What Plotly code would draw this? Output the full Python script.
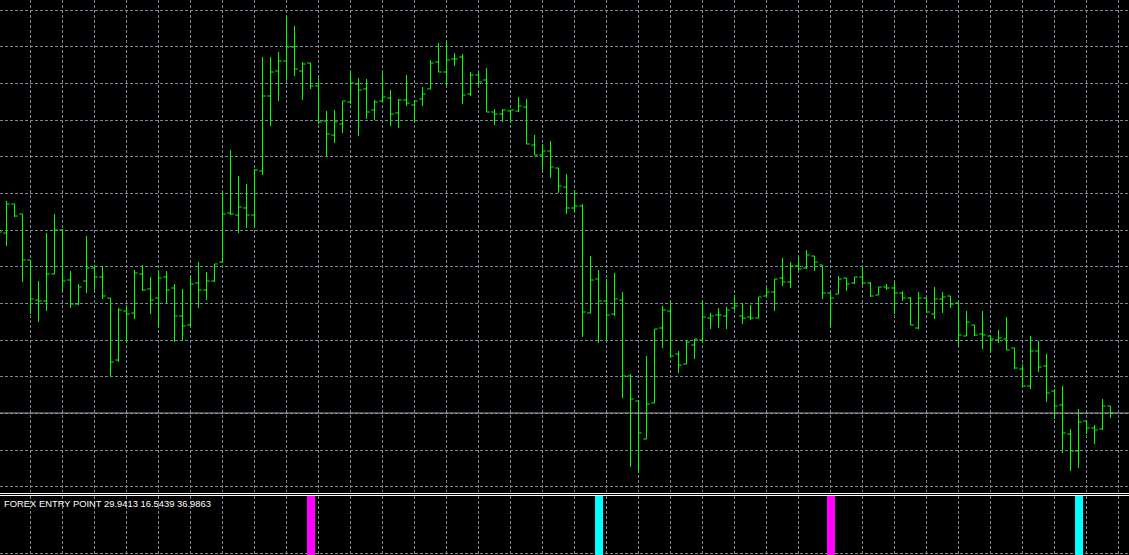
import plotly.graph_objects as go

# ---- price data (points), one bar per slot, oldest first ----
bar_index = list(range(-1, 139))

opens = [268, 267, 296, 286, 240, 200, 199, 226, 270, 220, 196, 219, 232, 223, 202, 140, 189, 187, 226, 211,
         202, 223, 212, 184, 175, 217, 210, 219, 238, 287, 285, 292, 285, 329, 404, 429, 439, 453, 429, 437,
         414, 379, 365, 376, 398, 416, 411, 390, 399, 402, 387, 400, 395, 401, 411, 438, 428, 441, 443, 406,
         425, 420, 388, 386, 389, 389, 393, 355, 345, 349, 332, 313, 292, 294, 187, 221, 199, 186, 200, 124,
         99, 61, 97, 172, 189, 146, 136, 155, 160, 182, 185, 184, 192, 184, 183, 182, 204, 208, 222, 218,
         234, 232, 244, 235, 207, 206, 222, 217, 223, 217, 205, 213, 212, 207, 202, 172, 202, 186, 201, 204,
         197, 164, 175, 166, 164, 160, 161, 152, 131, 114, 149, 134, 109, 95, 66, 49, 79, 72, 71, 94]
highs = [275, 299, 296, 286, 240, 219, 267, 286, 271, 229, 216, 264, 235, 234, 202, 192, 194, 230, 235, 223,
         230, 229, 216, 211, 224, 238, 228, 236, 308, 350, 324, 316, 331, 443, 443, 448, 483, 474, 438, 437,
         422, 389, 390, 399, 428, 422, 421, 400, 427, 410, 401, 425, 400, 413, 440, 457, 458, 447, 446, 428,
         428, 432, 391, 391, 390, 403, 401, 365, 356, 359, 332, 326, 310, 296, 244, 230, 221, 227, 208, 126,
         99, 144, 171, 194, 199, 149, 160, 161, 199, 187, 192, 193, 205, 197, 195, 203, 213, 221, 242, 238,
         243, 250, 244, 235, 207, 224, 222, 223, 233, 218, 213, 216, 218, 209, 203, 208, 202, 213, 208, 204,
         197, 189, 175, 189, 164, 170, 183, 152, 136, 164, 159, 146, 111, 114, 71, 91, 80, 75, 101, 94]
lows = [260, 254, 283, 218, 186, 178, 189, 226, 209, 192, 195, 207, 210, 201, 124, 138, 158, 181, 209, 186,
        172, 197, 158, 159, 174, 192, 200, 218, 237, 285, 267, 272, 273, 325, 374, 399, 420, 424, 400, 411,
        376, 344, 357, 367, 396, 364, 381, 380, 398, 374, 372, 394, 378, 394, 411, 428, 414, 434, 396, 404,
        414, 388, 375, 378, 377, 388, 356, 345, 330, 322, 307, 286, 288, 163, 187, 157, 160, 184, 102, 33,
        27, 61, 97, 152, 142, 127, 136, 141, 157, 171, 172, 171, 190, 176, 180, 182, 204, 189, 214, 212,
        230, 231, 229, 201, 172, 206, 209, 216, 215, 203, 205, 210, 186, 199, 175, 171, 187, 181, 187, 192,
        155, 164, 164, 151, 147, 157, 150, 131, 114, 111, 128, 98, 81, 47, 29, 32, 66, 56, 70, 82]
closes = [268, 296, 284, 240, 201, 199, 226, 270, 219, 196, 213, 232, 223, 204, 138, 190, 186, 227, 210, 200,
          222, 210, 184, 174, 216, 210, 219, 236, 286, 286, 293, 285, 330, 404, 428, 439, 453, 431, 436, 414,
          378, 366, 378, 399, 417, 410, 388, 398, 403, 386, 400, 397, 399, 406, 437, 428, 440, 441, 405, 425,
          418, 388, 386, 390, 390, 394, 356, 345, 349, 333, 314, 292, 294, 188, 220, 199, 185, 201, 124, 101,
          67, 96, 171, 190, 144, 135, 158, 161, 183, 184, 185, 190, 194, 182, 182, 203, 208, 221, 218, 234,
          231, 245, 238, 207, 202, 221, 216, 223, 217, 204, 213, 212, 207, 202, 175, 202, 188, 201, 203, 196,
          165, 178, 165, 165, 161, 162, 150, 132, 114, 149, 133, 107, 94, 67, 49, 78, 72, 70, 94, 87]

# ---- indicator signals (FOREX ENTRY POINT histogram) ----
signal_bars = [38, 74, 103, 134]
signal_kind = ["sell", "buy", "sell", "buy"]
signal_value = [1, 1, 1, 1]
indicator_label = "FOREX ENTRY POINT 29.9413 16.5439 36.9863"

# ---- styling ----
W, H = 1129, 555
BAR_PX = 8.0
FIRST_PX = 6.5            # pixel centre of bar 0
MAIN_BOTTOM_PX = 492      # bottom of main pane
IND_TOP_PX = 496          # top of indicator pane
GRID = "#778899"
GRID_DASH = "3px,2px"
kind_color = {"sell": "#ff00ff", "buy": "#00ffff"}

x_range = [-FIRST_PX / BAR_PX, (W - FIRST_PX) / BAR_PX]
y_top = 500
y_range = [y_top - MAIN_BOTTOM_PX, y_top]
grid_step = 110 / 3
grid0 = 490 - 13 * grid_step

fig = go.Figure()
fig.add_trace(go.Ohlc(
    x=bar_index, open=opens, high=highs, low=lows, close=closes,
    increasing=dict(line=dict(color="#00ff00", width=1)),
    decreasing=dict(line=dict(color="#00ff00", width=1)),
    tickwidth=0.4, xaxis="x", yaxis="y", hoverinfo="skip",
))
fig.add_trace(go.Bar(
    x=signal_bars, y=signal_value, width=1.0,
    marker=dict(color=[kind_color[k] for k in signal_kind], line=dict(width=0)),
    xaxis="x2", yaxis="y2", hoverinfo="skip",
))

# last price line
fig.add_shape(type="line", xref="paper", x0=0, x1=1, yref="y", y0=closes[-1], y1=closes[-1],
              line=dict(color="#a0a0a8", width=1), layer="above")
# pane separator (double white line)
for py in (493.5, 495.5):
    fig.add_shape(type="line", xref="paper", yref="paper", x0=0, x1=1,
                  y0=(H - py) / H, y1=(H - py) / H, line=dict(color="#ffffff", width=1))

fig.add_annotation(text=indicator_label, xref="paper", yref="paper",
                   x=2 / W, y=(H - 503.5) / H, xanchor="left", yanchor="middle",
                   showarrow=False, font=dict(family="Liberation Sans, Arial", size=9.4, color="#ffffff"))

axis_common = dict(showticklabels=False, zeroline=False, showline=False, ticks="",
                   showgrid=True, gridcolor=GRID, griddash=GRID_DASH, gridwidth=1)
fig.update_layout(
    width=W, height=H, margin=dict(l=0, r=0, t=0, b=0, pad=0),
    paper_bgcolor="#000000", plot_bgcolor="#000000", showlegend=False,
    xaxis=dict(range=x_range, dtick=4, tick0=3, anchor="y", domain=[0, 1],
               rangeslider=dict(visible=False), **axis_common),
    yaxis=dict(range=y_range, dtick=grid_step, tick0=grid0, anchor="x",
               domain=[(H - MAIN_BOTTOM_PX) / H, 1], **axis_common),
    xaxis2=dict(range=x_range, dtick=4, tick0=3, anchor="y2", domain=[0, 1], **axis_common),
    yaxis2=dict(range=[0, 1], tickvals=[2 / (H - IND_TOP_PX)], anchor="x2",
                domain=[0, (H - IND_TOP_PX) / H], **axis_common),
    bargap=0,
)

fig.write_html("out.html", config={"displayModeBar": False},
               post_script="document.body.style.margin='0px';document.body.style.overflow='hidden';")
